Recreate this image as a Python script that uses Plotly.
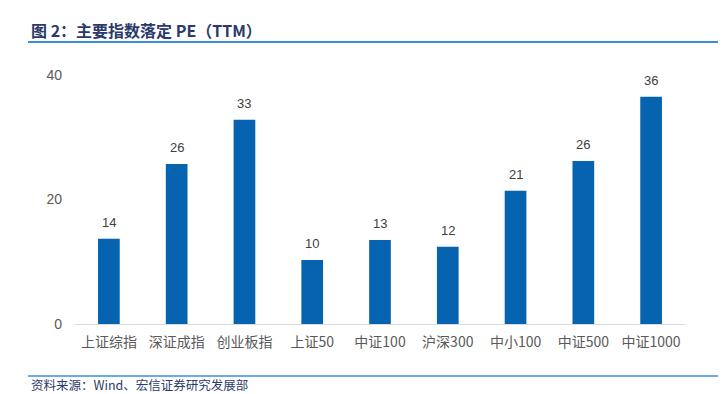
import plotly.graph_objects as go

categories = ["上证综指", "深证成指", "创业板指", "上证50", "中证100", "沪深300", "中小100", "中证500", "中证1000"]
pe_values = [13.7, 25.7, 32.8, 10.3, 13.5, 12.4, 21.4, 26.2, 36.5]
value_labels = ["14", "26", "33", "10", "13", "12", "21", "26", "36"]
y_ticks = [0, 20, 40]

# page is offset by the 8px body margin
OFF = 8
W, H = 726 - OFF, 394 - OFF
ml, mt = 75 - OFF, 75 - OFF
plot_r, plot_b = 685 - OFF, 324 - OFF
mr, mb = W - plot_r, H - plot_b
pw, ph = W - ml - mr, H - mt - mb

def px(x):
    return (x - OFF - ml) / pw

def py(y):
    return (plot_b - (y - OFF)) / ph

font_cjk = "Noto Sans CJK SC"

fig = go.Figure()
fig.add_trace(go.Bar(
    x=categories, y=pe_values,
    marker=dict(color="#0563b0", line=dict(width=0)),
    width=0.32,
))

label_annotations = [
    dict(x=c, y=v, text=t, xref="x", yref="y", showarrow=False,
         yanchor="bottom", yshift=7,
         font=dict(family="Liberation Sans, Arial", size=13, color="#404040"))
    for c, v, t in zip(categories, pe_values, value_labels)
]

fig.update_layout(
    width=W, height=H,
    margin=dict(l=ml, r=mr, t=mt, b=mb),
    paper_bgcolor="white", plot_bgcolor="white",
    showlegend=False,
    bargap=0.68,
    xaxis=dict(
        showgrid=False, showline=True, linecolor="#d9d9d9", linewidth=1,
        ticks="", tickfont=dict(family=font_cjk, size=14, color="#595959"),
        ticklabelstandoff=5,
    ),
    yaxis=dict(
        range=[0, 40], tickvals=y_ticks, showgrid=False, zeroline=False,
        showline=False, ticks="",
        tickfont=dict(family="Liberation Sans, Arial", size=14, color="#595959"),
        ticklabelstandoff=12,
    ),
    shapes=[
        dict(type="line", xref="paper", yref="paper", x0=px(28), x1=px(726), y0=py(42), y1=py(42),
             line=dict(color="#3a8fd4", width=2)),
        dict(type="line", xref="paper", yref="paper", x0=px(28), x1=px(726), y0=py(376), y1=py(376),
             line=dict(color="#3a8fd4", width=1.5)),
    ],
    annotations=label_annotations + [
        dict(text="<b>图 2：主要指数落定 PE（TTM）</b>", xref="paper", yref="paper",
             x=px(29), y=py(30), xanchor="left", yanchor="middle", showarrow=False,
             font=dict(family=font_cjk, size=16, color="#2b3a6b")),
        dict(text="资料来源：Wind、宏信证券研究发展部", xref="paper", yref="paper",
             x=px(29), y=py(384), xanchor="left", yanchor="middle", showarrow=False,
             font=dict(family=font_cjk, size=12.5, color="#2b3a6b")),
    ],
)

fig.write_html("out.html")
